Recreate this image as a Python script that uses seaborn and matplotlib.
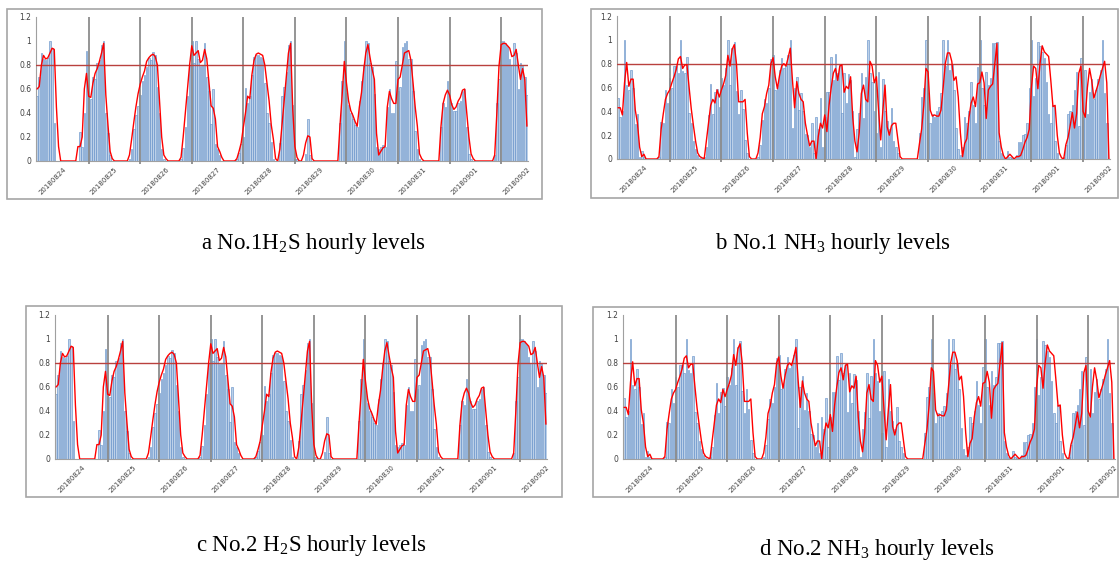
import matplotlib
matplotlib.use("Agg")
import matplotlib.pyplot as plt
from matplotlib.patches import Rectangle
import numpy as np
import seaborn as sns

# --- data (hourly, 24 values per row = one day) ---

day_labels = ["20180824", "20180825", "20180826", "20180827", "20180828",
              "20180829", "20180830", "20180831", "20180901", "20180902"]

h2s_bars = [
    0.54, 0.70, 0.90, 0.85, 0.84, 0.86, 1.00, 0.94, 0.32, 0, 0, 0, 0, 0, 0, 0, 0, 0, 0, 0, 0.24, 0.12, 0.40, 0.92,
    0.55, 0.52, 0.70, 0.68, 0.82, 0.84, 0.97, 1.00, 0.40, 0.23, 0.05, 0, 0, 0, 0, 0, 0, 0, 0, 0.02, 0.10, 0.27, 0.38, 0.46,
    0.55, 0.67, 0.72, 0.78, 0.86, 0.84, 0.91, 0.88, 0.62, 0.40, 0.10, 0.02, 0, 0, 0, 0, 0, 0, 0, 0.02, 0.11, 0.28, 0.54, 0.80,
    1.00, 0.82, 1.00, 0.85, 0.79, 0.80, 0.98, 0.70, 0.58, 0.31, 0.60, 0.14, 0.10, 0.05, 0, 0, 0, 0, 0, 0, 0, 0.02, 0.07, 0.14,
    0.20, 0.61, 0.48, 0.54, 0.72, 0.87, 0.88, 0.88, 0.87, 0.86, 0.65, 0.40, 0.32, 0.16, 0.02, 0, 0, 0.15, 0.54, 0.62, 0.74, 0.97, 1.00, 0.47,
    0.02, 0.02, 0, 0, 0, 0.06, 0.35, 0.05, 0, 0, 0, 0, 0, 0, 0, 0, 0, 0, 0, 0, 0, 0.32, 0.67, 1.00,
    0.57, 0.47, 0.40, 0.35, 0.30, 0.28, 0.50, 0.67, 0.80, 1.00, 0.98, 0.82, 0.78, 0.56, 0.12, 0.10, 0.12, 0.13, 0.12, 0.45, 0.60, 0.40, 0.40, 0.83,
    0.58, 0.62, 0.95, 0.98, 1.00, 0.85, 0.85, 0.58, 0.25, 0.10, 0.02, 0, 0, 0, 0, 0, 0, 0, 0, 0, 0.28, 0.48, 0.45, 0.67,
    0.52, 0.48, 0.42, 0.42, 0.48, 0.50, 0.58, 0.60, 0.28, 0.06, 0.02, 0, 0, 0, 0, 0, 0, 0, 0, 0, 0, 0.05, 0.48, 0.68,
    1.00, 1.00, 0.98, 0.96, 0.85, 0.80, 0.98, 0.90, 0.60, 0.82, 0.80, 0.70, 0.55,
]

h2s_line = [
    0.60, 0.62, 0.80, 0.88, 0.85, 0.86, 0.90, 0.94, 0.93, 0.45, 0.12, 0, 0, 0, 0, 0, 0, 0, 0, 0.12, 0.12, 0.20, 0.60, 0.73,
    0.54, 0.53, 0.65, 0.73, 0.77, 0.83, 0.90, 0.98, 0.55, 0.30, 0.08, 0.02, 0, 0, 0, 0, 0, 0, 0, 0.05, 0.18, 0.32, 0.45, 0.56,
    0.64, 0.70, 0.75, 0.83, 0.86, 0.88, 0.89, 0.87, 0.80, 0.50, 0.20, 0.05, 0.02, 0, 0, 0, 0, 0, 0, 0.03, 0.20, 0.40, 0.60, 0.80,
    0.96, 0.88, 0.90, 0.92, 0.82, 0.84, 0.93, 0.85, 0.65, 0.46, 0.44, 0.35, 0.12, 0.08, 0.03, 0, 0, 0, 0, 0, 0, 0.02, 0.08, 0.15,
    0.28, 0.40, 0.54, 0.52, 0.72, 0.84, 0.89, 0.90, 0.89, 0.88, 0.80, 0.65, 0.50, 0.30, 0.18, 0.02, 0, 0.10, 0.30, 0.50, 0.70, 0.90, 0.98, 0.43,
    0.12, 0.03, 0, 0, 0.05, 0.15, 0.21, 0.20, 0.02, 0, 0, 0, 0, 0, 0, 0, 0, 0, 0, 0, 0, 0.30, 0.55, 0.83,
    0.65, 0.50, 0.42, 0.38, 0.33, 0.29, 0.45, 0.57, 0.75, 0.90, 0.97, 0.86, 0.76, 0.68, 0.23, 0.05, 0.08, 0.11, 0.12, 0.45, 0.58, 0.52, 0.48, 0.48,
    0.68, 0.70, 0.80, 0.90, 0.91, 0.92, 0.84, 0.65, 0.45, 0.29, 0.06, 0.02, 0, 0, 0, 0, 0, 0, 0, 0, 0.29, 0.48, 0.55, 0.59,
    0.55, 0.47, 0.43, 0.45, 0.50, 0.53, 0.59, 0.60, 0.40, 0.20, 0.06, 0.02, 0, 0, 0, 0, 0, 0, 0, 0, 0, 0.05, 0.40, 0.79,
    0.97, 0.98, 0.98, 0.96, 0.94, 0.87, 0.88, 0.93, 0.80, 0.68, 0.77, 0.68, 0.29,
]

nh3_bars = [
    0.51, 0.35, 0.40, 1.00, 0.62, 0.58, 0.75, 0.60, 0.29, 0.38, 0.02, 0.07, 0.02, 0, 0, 0, 0, 0, 0, 0.02, 0.31, 0.30, 0.58, 0.47,
    0.68, 0.60, 0.78, 0.78, 0.72, 1.00, 0.74, 0.72, 0.86, 0.39, 0.30, 0.15, 0.08, 0.03, 0.01, 0, 0.02, 0.10, 0.37, 0.63, 0.38, 0.56, 0.59, 0.44,
    0.68, 0.62, 0.76, 1.00, 0.62, 0.93, 0.98, 0.57, 0.38, 0.58, 0.42, 0.16, 0.05, 0, 0, 0, 0, 0.02, 0.12, 0.33, 0.50, 0.47, 0.60, 0.84,
    0.87, 0.58, 0.62, 0.75, 0.85, 0.76, 0.78, 0.87, 1.00, 0.26, 0.60, 0.69, 0.41, 0.55, 0.40, 0.21, 0.20, 0.10, 0.30, 0.05, 0.35, 0.25, 0.51, 0.10,
    0.35, 0.56, 0.56, 0.86, 0.66, 0.88, 0.72, 0.80, 0.39, 0.72, 0.47, 0.71, 0.66, 0.40, 0.02, 0.25, 0.39, 0.72, 0.34, 0.69, 1.00, 0.72, 0.65, 0.40,
    0.22, 0.73, 0.10, 0.67, 0.40, 0.32, 0.25, 0.43, 0.15, 0.10, 0.05, 0, 0, 0, 0, 0, 0, 0, 0, 0, 0.22, 0.52, 0.60, 1.00,
    0.55, 0.30, 0.38, 0.35, 0.40, 0.44, 0.55, 1.00, 0.78, 1.00, 0.75, 0.80, 0.58, 0.26, 0.08, 0.03, 0.10, 0.35, 0.30, 0.40, 0.65, 0.45, 0.30, 0.77,
    1.00, 0.60, 0.45, 0.73, 0.62, 0.68, 0.97, 0.97, 0.98, 0.15, 0.05, 0.02, 0, 0.07, 0.02, 0.01, 0, 0.03, 0.14, 0.14, 0.20, 0.21, 0.30, 0.60,
    1.00, 0.53, 0.68, 0.98, 0.95, 0.90, 0.85, 0.65, 0.38, 0.30, 0.45, 0.15, 0.05, 0, 0, 0.02, 0.12, 0.38, 0.40, 0.45, 0.58, 0.73, 0.28, 0.85,
    0.35, 0.75, 0.38, 0.56, 0.67, 0.50, 0.58, 0.67, 0.75, 1.00, 0.55, 0.30, 0.0,
]

nh3_line = [
    0.43, 0.43, 0.37, 0.64, 0.81, 0.61, 0.67, 0.67, 0.41, 0.30, 0.10, 0.02, 0.04, 0, 0, 0, 0, 0, 0, 0.02, 0.25, 0.38, 0.50, 0.55,
    0.58, 0.64, 0.69, 0.75, 0.84, 0.86, 0.76, 0.79, 0.79, 0.60, 0.42, 0.28, 0.15, 0.05, 0.02, 0.01, 0, 0.15, 0.30, 0.45, 0.50, 0.47, 0.58, 0.52,
    0.58, 0.63, 0.70, 0.87, 0.78, 0.92, 0.96, 0.80, 0.48, 0.48, 0.48, 0.50, 0.22, 0.02, 0, 0, 0, 0.05, 0.18, 0.38, 0.44, 0.55, 0.62, 0.80,
    0.85, 0.69, 0.59, 0.70, 0.78, 0.80, 0.78, 0.85, 0.93, 0.66, 0.43, 0.65, 0.55, 0.50, 0.48, 0.30, 0.20, 0.11, 0.15, 0.15, 0.0, 0.19, 0.30, 0.26,
    0.37, 0.23, 0.45, 0.60, 0.72, 0.76, 0.66, 0.78, 0.79, 0.56, 0.61, 0.59, 0.69, 0.35, 0.15, 0.06, 0.22, 0.55, 0.62, 0.50, 0.48, 0.82, 0.78, 0.64,
    0.69, 0.41, 0.16, 0.41, 0.62, 0.27, 0.20, 0.28, 0.30, 0.30, 0.16, 0.02, 0, 0, 0, 0, 0, 0, 0, 0, 0.13, 0.25, 0.45, 0.76,
    0.73, 0.41, 0.36, 0.37, 0.36, 0.36, 0.41, 0.60, 0.80, 0.89, 0.89, 0.82, 0.66, 0.69, 0.52, 0.22, 0.02, 0.13, 0.17, 0.35, 0.47, 0.52, 0.44, 0.63,
    0.64, 0.73, 0.64, 0.34, 0.58, 0.61, 0.63, 0.80, 0.97, 0.22, 0.10, 0.03, 0, 0.02, 0.04, 0.02, 0, 0.02, 0.02, 0.03, 0.08, 0.14, 0.18, 0.25,
    0.60, 0.78, 0.76, 0.59, 0.80, 0.95, 0.90, 0.88, 0.86, 0.66, 0.44, 0.45, 0.20, 0.05, 0.01, 0, 0.12, 0.18, 0.28, 0.39, 0.26, 0.38, 0.72, 0.78,
    0.40, 0.35, 0.60, 0.76, 0.66, 0.51, 0.57, 0.63, 0.70, 0.76, 0.82, 0.64, 0.0,
]

limit = 0.8
captions = ["a No.1H$_\\mathregular{2}$S hourly levels",
            "b No.1 NH$_\\mathregular{3}$ hourly levels",
            "c No.2 H$_\\mathregular{2}$S hourly levels",
            "d No.2 NH$_\\mathregular{3}$ hourly levels"]

assert len(h2s_bars) == len(h2s_line) == len(nh3_bars) == len(nh3_line) == 229

# --- plotting ---
sns.set_style("white")
plt.rcParams["font.family"] = ["DejaVu Sans"]
plt.rcParams["mathtext.fontset"] = "custom"
plt.rcParams["mathtext.rm"] = "Liberation Serif"

W, H = 1119, 561
fig = plt.figure(figsize=(W / 100, H / 100), dpi=100)


def px_axes(x0, y0, x1, y1):
    return fig.add_axes([x0 / W, 1 - y1 / H, (x1 - x0) / W, (y1 - y0) / H])


def draw_panel(ax, bars, line):
    n = len(bars)
    hours = np.arange(n)
    sns.barplot(x=hours, y=bars, ax=ax, color="#bcd0e8", saturation=1,
                width=0.7, edgecolor="#5b8ac6", linewidth=0.4, errorbar=None)
    ax.vlines(np.arange(24, n, 24), -0.025, 1.2, color="#8c8c8c",
              linewidth=1.3, clip_on=False, zorder=3)
    ax.axhline(limit, color="#b9413e", linewidth=1.0, zorder=4)
    sns.lineplot(x=hours, y=line, ax=ax, color="red", linewidth=1.0, zorder=5)
    ax.set_xlim(-0.5, n - 0.5)
    ax.set_ylim(0, 1.2)
    ax.set_yticks([0, 0.2, 0.4, 0.6, 0.8, 1.0, 1.2])
    ax.set_yticklabels(["0", "0.2", "0.4", "0.6", "0.8", "1", "1.2"],
                       fontsize=5.5, color="#404040")
    ax.set_xticks(np.arange(12, n, 24))
    ax.set_xticklabels(day_labels, rotation=45, ha="right",
                       rotation_mode="anchor", fontsize=5, color="#404040")
    ax.tick_params(axis="both", length=2, width=0.6, color="#a0a0a0", pad=1.5)
    ax.tick_params(axis="x", bottom=False)
    ax.set_xlabel("")
    ax.set_ylabel("")
    sns.despine(ax=ax)
    for s in ["left", "bottom"]:
        ax.spines[s].set_color("#a0a0a0")
        ax.spines[s].set_linewidth(0.8)


# panel boxes (pixel coordinates)
boxes = [(7, 9, 542, 199), (591, 9, 1118, 198), (26, 306, 562, 497), (593, 307, 1118, 497)]
plots = [(36, 17, 528, 161), (617, 16, 1110, 159), (55, 315, 547, 459), (623, 315, 1115, 459)]
series = [(h2s_bars, h2s_line), (nh3_bars, nh3_line), (h2s_bars, h2s_line), (nh3_bars, nh3_line)]
cap_pos = [(313, 243), (833, 244), (311, 545), (877, 549)]

for box, pa, (b, l), cap, cp in zip(boxes, plots, series, captions, cap_pos):
    x0, y0, x1, y1 = box
    fig.patches.append(Rectangle((x0 / W, 1 - y1 / H), (x1 - x0) / W, (y1 - y0) / H,
                                 transform=fig.transFigure, fill=False,
                                 edgecolor="#a6a6a6", linewidth=1.2))
    ax = px_axes(*pa)
    draw_panel(ax, b, l)
    fig.text(cp[0] / W, 1 - cp[1] / H, cap, ha="center", va="center",
             fontsize=16.5, family="Liberation Serif", color="black")

fig.savefig("out.png", dpi=100)
